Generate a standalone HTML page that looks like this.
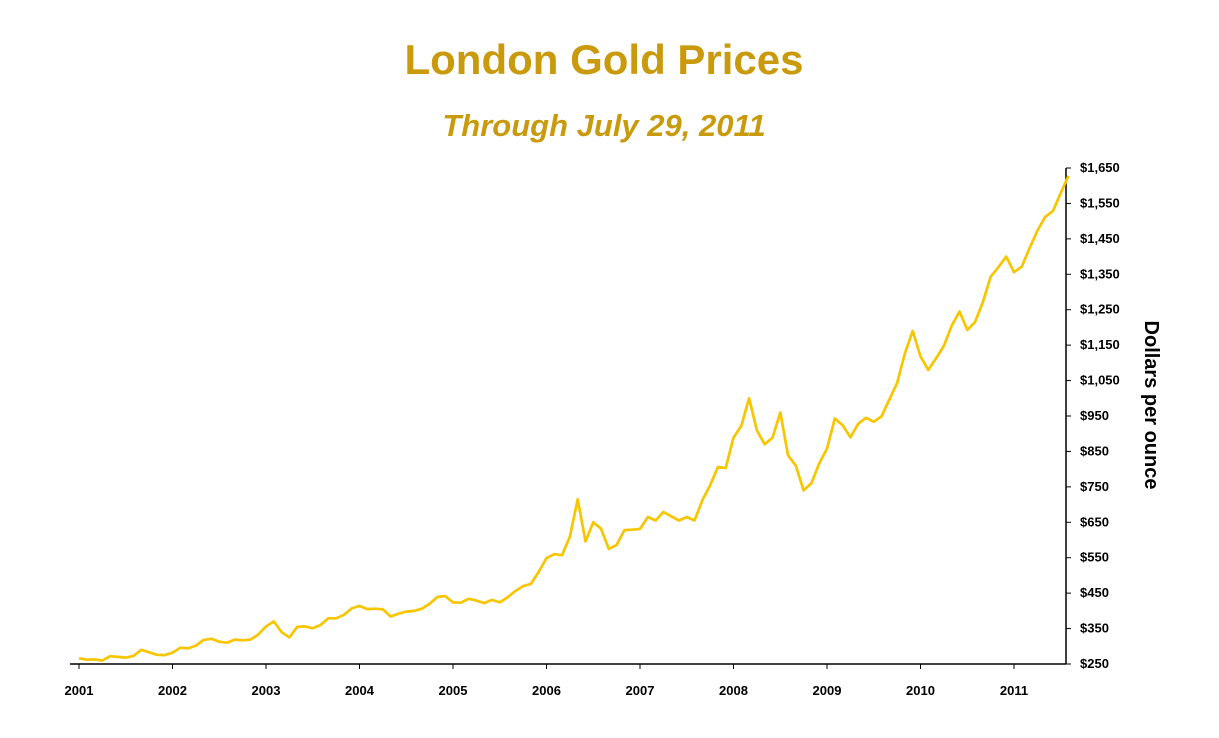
<!DOCTYPE html>
<html><head><meta charset="utf-8"><style>
body{margin:0;background:#fff;}
svg{display:block;font-family:"Liberation Sans",sans-serif;}
</style></head><body>
<svg id="chart" width="1219" height="738">
<text x="604" y="74" text-anchor="middle" font-size="42" font-weight="bold" fill="#C89A0C">London Gold Prices</text>
<text x="604" y="136" text-anchor="middle" font-size="31" font-weight="bold" font-style="italic" fill="#C89A0C">Through July 29, 2011</text>
<g id="axes"></g>
<text transform="translate(1145,405) rotate(90)" text-anchor="middle" font-size="20" font-weight="bold" fill="#000">Dollars per ounce</text>
</svg>
<script>
const years = [2001,2002,2003,2004,2005,2006,2007,2008,2009,2010,2011];
const yTicks = [250,350,450,550,650,750,850,950,1050,1150,1250,1350,1450,1550,1650];
const prices = [
266,262,263,260,272,270,268,273,290,283,276,275,
282,296,294,302,318,321,313,310,319,317,319,333,
356,370,340,325,355,356,351,360,379,379,389,407,
414,405,406,404,384,392,398,400,406,420,439,442,
424,423,434,429,422,431,424,438,456,470,476,510,
549,560,557,610,715,596,650,632,575,586,628,629,
631,665,655,679,667,655,665,655,712,754,806,803,
889,922,1000,909,870,889,960,839,810,740,760,816,
858,943,924,890,928,945,934,949,996,1043,1127,1190,
1118,1080,1113,1148,1205,1245,1193,1215,1271,1343,1370,1400,
1356,1372,1424,1473,1512,1529,1580,1628];
const NS="http://www.w3.org/2000/svg";
const g=document.getElementById('axes');
const X0=79, PXY=93.5, Y0=664, PXD=(664-168)/1400;
function xs(t){return X0+(t-2001)*PXY;}
function ys(v){return Y0-(v-250)*PXD;}
function mk(tag,attrs,parent){const e=document.createElementNS(NS,tag);for(const k in attrs)e.setAttribute(k,attrs[k]);(parent||g).appendChild(e);return e;}
const AX=1066;
const xl=mk('line',{x1:70,y1:Y0,x2:AX,y2:Y0,stroke:'#000','stroke-width':1.5});


const yl=mk('line',{x1:AX,y1:ys(1650),x2:AX,y2:Y0,stroke:'#000','stroke-width':1.5});


years.forEach(yr=>{
  const x=xs(yr);
  mk('line',{x1:x,y1:Y0,x2:x,y2:Y0+5,stroke:'#000','stroke-width':1});
  const t=mk('text',{x:x,y:Y0+31,'text-anchor':'middle','font-size':13,'font-weight':'bold',fill:'#000'});
  t.textContent=yr;
  
  
});
yTicks.forEach(v=>{
  const y=ys(v);
  mk('line',{x1:AX,y1:y,x2:AX+5,y2:y,stroke:'#000','stroke-width':1});
  const t=mk('text',{x:AX+14,y:y+4,'font-size':13,'font-weight':'bold',fill:'#000'});
  t.textContent='$'+v.toLocaleString('en-US');
  
  
});
const d=prices.map((p,i)=>(i?'L':'M')+xs(2001+i/12).toFixed(1)+','+ys(p).toFixed(1)).join(' ');
const line=mk('path',{d:d,fill:'none',stroke:'#F7C600','stroke-width':2.7,'stroke-linejoin':'round'});


</script>
</body></html>
